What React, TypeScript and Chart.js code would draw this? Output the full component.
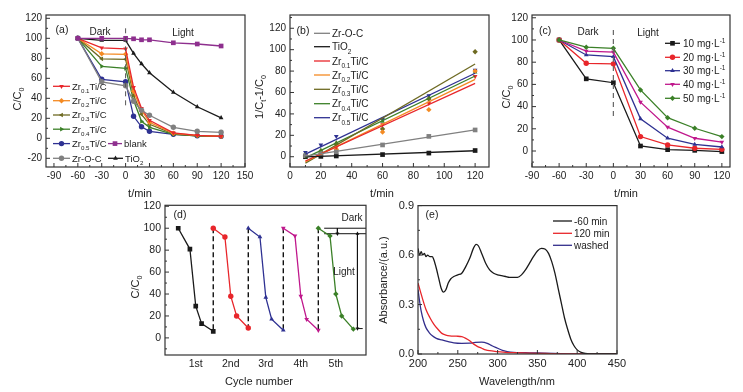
import React, { useEffect, useRef } from 'react';
import { Chart, registerables } from 'chart.js';
Chart.register(...registerables);

const FONT = '"Liberation Sans", Arial, Helvetica, sans-serif';
const INK = '#222';
const COL = {
  red: '#e8262b', orange: '#f48a22', olive: '#6e6a22', green: '#3b8028', blue: '#2e3192',
  gray: '#808080', black: '#1a1a1a', purple: '#8e2f8e', magenta: '#c0188c',
};

// ---------------- (a) ----------------
const aTimes = [-60, -30, 0, 10, 20, 30, 60, 90, 120];
const aZr01 = [100, 90.5, 89.5, 51, 30, 18, 5.5, 3, 2];
const aZr02 = [100, 84.5, 84, 47, 28, 16, 5, 3, 2];
const aZr03 = [100, 79.5, 79, 43, 24, 14, 4.5, 2.5, 2];
const aZr04 = [100, 72, 70, 38, 17, 11, 4, 2.5, 2];
const aZr05 = [100, 59, 56.5, 22, 11.5, 7, 4, 2.5, 2];
const aZrOC = [100, 56.5, 52.5, 37, 28, 23, 11, 7, 6];
const aTiO2 = [100, 98, 98, 85, 74.5, 65.5, 46, 31.5, 20.5];
const aBlank = [100, 100, 100, 99.5, 98.5, 98.5, 95.5, 94.3, 92.3];
const aDashX = [0, 0];
const aDashY = [110, 32];
const aXTicks = [-90, -60, -30, 0, 30, 60, 90, 120, 150];
const aYTicks = [-20, 0, 20, 40, 60, 80, 100, 120];

// ---------------- (b) ----------------
const bTimes = [10, 20, 30, 60, 90, 120];
const bZrOC = [1, 3, 4.5, 11, 19, 25];
const bTiO2 = [0, 0.3, 0.7, 2, 3.4, 5.8];
const bZr01 = [1, 3, 9, 30, 50, 75];
const bZr02 = [0.5, 3, 7, 23, 44, 80];
const bZr03 = [1, 5, 12, 26, 54, 98];
const bZr04 = [2, 6, 13, 33, 55, 79];
const bZr05 = [4, 11, 19, 35, 57, 81];
const bFitT = [10, 120];
const bFitZrOC = [0.5, 25];
const bFitTiO2 = [-0.2, 5.6];
const bFitZr01 = [-4, 68.5];
const bFitZr02 = [-4.5, 72.3];
const bFitZr03 = [-6, 86.6];
const bFitZr04 = [-1, 75.4];
const bFitZr05 = [2.5, 78];
const bXTicks = [0, 20, 40, 60, 80, 100, 120];
const bYTicks = [0, 20, 40, 60, 80, 100, 120];

// ---------------- (c) ----------------
const cTimes = [-60, -30, 0, 30, 60, 90, 120];
const c10 = [100, 65, 61.5, 4.5, 1.2, 0.6, -0.5];
const c20 = [100, 79, 78.5, 13, 5.5, 2.5, 1.5];
const c30 = [100, 86.5, 85, 29, 11.5, 6, 3.6];
const c40 = [100, 90, 89, 44, 21.5, 11.5, 8];
const c50 = [100, 93.5, 92.5, 55, 30, 20.5, 13];
const cDashX = [0, 0];
const cDashY = [109, 29];
const cXTicks = [-90, -60, -30, 0, 30, 60, 90, 120];
const cYTicks = [0, 20, 40, 60, 80, 100, 120];

// ---------------- (d) ----------------
const dCycleTimes = [-60, 0, 30, 60, 120];
const dCycleSpan = 180;
const dCycles = [
  [100, 81, 29, 13, 6],
  [100, 92, 38, 20, 9],
  [100, 92, 37, 17, 7],
  [100, 93, 38, 17, 7],
  [100, 93, 40, 20, 8],
];
const dCycleLabels = ['1st', '2nd', '3rd', '4th', '5th'];
const dDarkLineX = [750, 965];
const dDarkTop = 100;
const dDarkBottom = 95;
const dDarkArrowX = 818;
const dLightArrowX = 921;
const dLightEnd = 8.5;
const dFootX = [921, 948];
const dYTicks = [0, 20, 40, 60, 80, 100, 120];

// ---------------- (e) ----------------
const eWlBlack = [200, 202, 204, 206, 208, 210, 212, 215, 218, 220, 223, 226, 229, 232, 235, 238, 241, 245, 250, 255, 260, 265, 270, 273, 276, 280, 285, 290, 295, 300, 305, 310, 315, 320, 325, 330, 335, 340, 345, 350, 355, 360, 364, 368, 372, 376, 380, 384, 388, 392, 396, 400, 405, 410, 415, 450];
const eAbsBlack = [0.64, 0.6, 0.62, 0.6, 0.61, 0.59, 0.6, 0.59, 0.59, 0.57, 0.52, 0.46, 0.4, 0.375, 0.39, 0.43, 0.455, 0.47, 0.48, 0.49, 0.53, 0.58, 0.645, 0.665, 0.655, 0.61, 0.55, 0.51, 0.49, 0.48, 0.475, 0.47, 0.465, 0.465, 0.465, 0.48, 0.51, 0.55, 0.59, 0.625, 0.64, 0.635, 0.61, 0.56, 0.49, 0.4, 0.31, 0.22, 0.15, 0.09, 0.05, 0.025, 0.01, 0.003, 0, 0];
const eWlRed = [200, 203, 206, 210, 215, 220, 225, 230, 235, 240, 248, 255, 260, 265, 270, 275, 280, 285, 290, 300, 310, 320, 340, 360, 380, 400, 450];
const eAbsRed = [0.43, 0.38, 0.33, 0.27, 0.22, 0.18, 0.15, 0.125, 0.115, 0.11, 0.108, 0.105, 0.095, 0.08, 0.06, 0.045, 0.035, 0.025, 0.02, 0.015, 0.01, 0.008, 0.005, 0.003, 0.001, 0, 0];
const eWlBlue = [200, 202, 204, 207, 210, 214, 218, 223, 230, 238, 245, 255, 265, 272, 280, 287, 293, 300, 306, 312, 320, 335, 350, 370, 390, 410, 450];
const eAbsBlue = [0.39, 0.32, 0.26, 0.2, 0.16, 0.13, 0.11, 0.095, 0.085, 0.075, 0.068, 0.065, 0.066, 0.07, 0.072, 0.065, 0.05, 0.035, 0.022, 0.015, 0.01, 0.008, 0.006, 0.003, 0.001, 0, 0];
const eXTicks = [200, 250, 300, 350, 400, 450];
const eYTicks = [0, 0.3, 0.6, 0.9];

// ---------------- helpers ----------------
type Part = { t: string; s?: 'sub' | 'sup' };
function parseRich(str: string): Part[] {
  const out: Part[] = [];
  let i = 0;
  let buf = '';
  while (i < str.length) {
    const ch = str[i];
    if ((ch === '_' || ch === '^') && str[i + 1] === '{') {
      if (buf) { out.push({ t: buf }); buf = ''; }
      const end = str.indexOf('}', i + 2);
      out.push({ t: str.slice(i + 2, end), s: ch === '_' ? 'sub' : 'sup' });
      i = end + 1;
    } else { buf += ch; i++; }
  }
  if (buf) out.push({ t: buf });
  return out;
}

function drawRich(ctx: CanvasRenderingContext2D, str: string, x: number, y: number, size: number, align = 'left', rot = 0, color = INK) {
  const parts = parseRich(str);
  ctx.save();
  ctx.translate(x, y);
  if (rot) ctx.rotate(rot);
  ctx.fillStyle = color;
  ctx.textBaseline = 'alphabetic';
  ctx.textAlign = 'left';
  const fs = (p: Part) => (p.s ? size * 0.65 : size);
  const widths = parts.map((p) => { ctx.font = `${fs(p)}px ${FONT}`; return ctx.measureText(p.t).width; });
  const total = widths.reduce((a, b) => a + b, 0);
  let cx = align === 'center' ? -total / 2 : align === 'right' ? -total : 0;
  const base = size * 0.36;
  parts.forEach((p, i) => {
    ctx.font = `${fs(p)}px ${FONT}`;
    const dy = p.s === 'sub' ? size * 0.32 : p.s === 'sup' ? -size * 0.4 : 0;
    ctx.fillText(p.t, cx, base + dy);
    cx += widths[i];
  });
  ctx.restore();
}

function drawMarker(ctx: CanvasRenderingContext2D, style: string, rot: number, x: number, y: number, r: number, color: string) {
  ctx.save();
  ctx.translate(x, y);
  ctx.rotate((rot * Math.PI) / 180);
  ctx.fillStyle = color;
  ctx.beginPath();
  if (style === 'rect') {
    const s = r * Math.SQRT1_2;
    ctx.rect(-s, -s, 2 * s, 2 * s);
  } else if (style === 'circle') {
    ctx.arc(0, 0, r, 0, Math.PI * 2);
  } else if (style === 'triangle') {
    for (let k = 0; k < 3; k++) {
      const a = (k * 2 * Math.PI) / 3;
      const px = Math.sin(a) * r;
      const py = -Math.cos(a) * r;
      if (k === 0) ctx.moveTo(px, py); else ctx.lineTo(px, py);
    }
    ctx.closePath();
  } else if (style === 'rectRot') {
    ctx.moveTo(0, -r); ctx.lineTo(r, 0); ctx.lineTo(0, r); ctx.lineTo(-r, 0); ctx.closePath();
  }
  ctx.fill();
  ctx.restore();
}

const PR = 2.7;
const PR_RECT = 3.3;

function pts(xs: number[], ys: number[]) {
  return xs.map((x, i) => ({ x, y: ys[i] }));
}

function series(xs: number[], ys: number[], color: string, style: string | false, rot = 0, extra: any = {}) {
  return {
    data: pts(xs, ys),
    borderColor: color,
    backgroundColor: color,
    pointBackgroundColor: color,
    pointBorderColor: color,
    pointBorderWidth: 0,
    borderWidth: 1.3,
    pointRadius: style ? (style === 'rect' ? PR_RECT : PR) : 0,
    pointStyle: style || 'circle',
    pointRotation: rot,
    tension: 0,
    fill: false,
    ...extra,
  };
}

type Legend = { x1: number; x2: number; y: number; color: string; marker?: [string, number]; text: string; tx: number };
type Txt = { s: string; x: number; y: number; size: number; align?: string; rot?: number };
type Spec = {
  box: { x: number; y: number; w: number; h: number };
  frame: { l: number; t: number; r: number; b: number };
  xMin: number; xMax: number; yMin: number; yMax: number;
  xTicks: number[]; yTicks: number[]; xMinor: number; yMinor: number;
  xFmt: (v: number) => string; yFmt: (v: number) => string;
  xTickMarks?: boolean;
  tickSize: number;
  legendSize?: number;
  datasets: any[];
  texts: Txt[];
  legend: Legend[];
};

function buildConfig(spec: Spec): any {
  const { box, frame } = spec;
  const deco = {
    id: 'deco',
    afterDraw(chart: any) {
      const ctx: CanvasRenderingContext2D = chart.ctx;
      const { left, top, right, bottom } = chart.chartArea;
      const xs = chart.scales.x;
      const ys = chart.scales.y;
      ctx.save();
      ctx.strokeStyle = '#333';
      ctx.lineWidth = 1.2;
      ctx.strokeRect(left, top, right - left, bottom - top);
      ctx.lineWidth = 1;
      ctx.beginPath();
      if (spec.xTickMarks !== false) {
        spec.xTicks.forEach((v, i) => {
          const px = xs.getPixelForValue(v);
          ctx.moveTo(px, bottom); ctx.lineTo(px, bottom - 4);
          if (spec.xMinor && i < spec.xTicks.length - 1) {
            const pm = xs.getPixelForValue(v + spec.xMinor);
            if (pm < right) { ctx.moveTo(pm, bottom); ctx.lineTo(pm, bottom - 2); }
          }
        });
      }
      spec.yTicks.forEach((v, i) => {
        const py = ys.getPixelForValue(v);
        ctx.moveTo(left, py); ctx.lineTo(left + 4, py);
        if (spec.yMinor) {
          const pm = ys.getPixelForValue(v + spec.yMinor);
          if (pm > top) { ctx.moveTo(left, pm); ctx.lineTo(left + 2, pm); }
          const pm2 = ys.getPixelForValue(v - spec.yMinor);
          if (i === 0 && pm2 < bottom) { ctx.moveTo(left, pm2); ctx.lineTo(left + 2, pm2); }
        }
      });
      ctx.stroke();
      // legend
      const ls = spec.legendSize || 10;
      spec.legend.forEach((L) => {
        const y = L.y - box.y;
        ctx.strokeStyle = L.color;
        ctx.lineWidth = 1.3;
        ctx.beginPath();
        ctx.moveTo(L.x1 - box.x, y); ctx.lineTo(L.x2 - box.x, y);
        ctx.stroke();
        if (L.marker) drawMarker(ctx, L.marker[0], L.marker[1], (L.x1 + L.x2) / 2 - box.x, y, L.marker[0] === 'rect' ? PR_RECT : PR, L.color);
        drawRich(ctx, L.text, L.tx - box.x, y, ls, 'left');
      });
      spec.texts.forEach((t) => {
        drawRich(ctx, t.s, t.x - box.x, t.y - box.y, t.size, t.align || 'center', t.rot || 0);
      });
      ctx.restore();
    },
  };
  return {
    type: 'line',
    data: { datasets: spec.datasets },
    options: {
      animation: false,
      responsive: false,
      devicePixelRatio: 1,
      layout: { padding: { left: 0, bottom: 0, top: frame.t - box.y, right: box.x + box.w - frame.r } },
      plugins: { legend: { display: false }, tooltip: { enabled: false } },
      scales: {
        x: {
          type: 'linear', min: spec.xMin, max: spec.xMax,
          grid: { display: false, drawTicks: false }, border: { display: false },
          ticks: {
            font: { family: FONT, size: spec.tickSize }, color: INK, padding: 3,
            maxRotation: 0, autoSkip: false, callback: (v: number) => spec.xFmt(v),
          },
          afterBuildTicks: (s: any) => { s.ticks = spec.xTicks.map((v) => ({ value: v })); },
          afterFit: (s: any) => { s.height = box.y + box.h - frame.b; },
        },
        y: {
          type: 'linear', min: spec.yMin, max: spec.yMax,
          grid: { display: false, drawTicks: false }, border: { display: false },
          ticks: {
            font: { family: FONT, size: spec.tickSize }, color: INK, padding: 4,
            autoSkip: false, callback: (v: number) => spec.yFmt(v),
          },
          afterBuildTicks: (s: any) => { s.ticks = spec.yTicks.map((v) => ({ value: v })); },
          afterFit: (s: any) => { s.width = frame.l - box.x; },
        },
      },
    },
    plugins: [deco],
  };
}

const intFmt = (v: number) => String(Math.round(v));

// ---------------- specs ----------------
const specA: Spec = {
  box: { x: 0, y: 0, w: 262, h: 205 },
  frame: { l: 46, t: 15, r: 245, b: 167 },
  xMin: -100, xMax: 150, yMin: -28.7, yMax: 123.3,
  xTicks: aXTicks, yTicks: aYTicks, xMinor: 15, yMinor: 10,
  xFmt: intFmt, yFmt: intFmt, tickSize: 10, legendSize: 9.5,
  datasets: [
    series(aDashX, aDashY, '#555', false, 0, { borderDash: [5, 4], borderWidth: 1 }),
    series(aTimes, aBlank, COL.purple, 'rect'),
    series(aTimes, aTiO2, COL.black, 'triangle'),
    series(aTimes, aZrOC, COL.gray, 'circle'),
    series(aTimes, aZr01, COL.red, 'triangle', 180),
    series(aTimes, aZr02, COL.orange, 'rectRot'),
    series(aTimes, aZr03, COL.olive, 'triangle', -90),
    series(aTimes, aZr04, COL.green, 'triangle', 90),
    series(aTimes, aZr05, COL.blue, 'circle'),
  ],
  texts: [
    { s: '(a)', x: 62, y: 29, size: 10.5 },
    { s: 'Dark', x: 100, y: 31, size: 10 },
    { s: 'Light', x: 183, y: 32, size: 10 },
    { s: 'C/C_{0}', x: 17, y: 99, size: 11, rot: -Math.PI / 2 },
    { s: 't/min', x: 140, y: 193, size: 11 },
  ],
  legend: [
    { x1: 53, x2: 70, y: 86.3, color: COL.red, marker: ['triangle', 180], text: 'Zr_{0.1}Ti/C', tx: 72 },
    { x1: 53, x2: 70, y: 100.7, color: COL.orange, marker: ['rectRot', 0], text: 'Zr_{0.2}Ti/C', tx: 72 },
    { x1: 53, x2: 70, y: 115, color: COL.olive, marker: ['triangle', -90], text: 'Zr_{0.3}Ti/C', tx: 72 },
    { x1: 53, x2: 70, y: 129.2, color: COL.green, marker: ['triangle', 90], text: 'Zr_{0.4}Ti/C', tx: 72 },
    { x1: 53, x2: 70, y: 143.6, color: COL.blue, marker: ['circle', 0], text: 'Zr_{0.5}Ti/C', tx: 72 },
    { x1: 53, x2: 70, y: 158.3, color: COL.gray, marker: ['circle', 0], text: 'Zr-O-C', tx: 72 },
    { x1: 108, x2: 122, y: 143.6, color: COL.purple, marker: ['rect', 0], text: 'blank', tx: 124 },
    { x1: 108, x2: 123, y: 158.3, color: COL.black, marker: ['triangle', 0], text: 'TiO_{2}', tx: 125 },
  ],
};

const specB: Spec = {
  box: { x: 245, y: 0, w: 255, h: 205 },
  frame: { l: 290, t: 15, r: 489, b: 167 },
  xMin: 0, xMax: 129, yMin: -9.6, yMax: 132.4,
  xTicks: bXTicks, yTicks: bYTicks, xMinor: 10, yMinor: 10,
  xFmt: intFmt, yFmt: intFmt, tickSize: 10,
  datasets: [
    series(bFitT, bFitZrOC, COL.gray, false),
    series(bFitT, bFitTiO2, COL.black, false),
    series(bFitT, bFitZr01, COL.red, false),
    series(bFitT, bFitZr02, COL.orange, false),
    series(bFitT, bFitZr03, COL.olive, false),
    series(bFitT, bFitZr04, COL.green, false),
    series(bFitT, bFitZr05, COL.blue, false),
    series(bTimes, bZrOC, COL.gray, 'rect', 0, { showLine: false }),
    series(bTimes, bTiO2, COL.black, 'rect', 0, { showLine: false }),
    series(bTimes, bZr01, COL.red, 'triangle', 180, { showLine: false }),
    series(bTimes, bZr02, COL.orange, 'rectRot', 0, { showLine: false }),
    series(bTimes, bZr03, COL.olive, 'rectRot', 0, { showLine: false }),
    series(bTimes, bZr04, COL.green, 'triangle', 0, { showLine: false }),
    series(bTimes, bZr05, COL.blue, 'triangle', 180, { showLine: false }),
  ],
  texts: [
    { s: '(b)', x: 303, y: 30, size: 10.5 },
    { s: '1/C_{t}-1/C_{0}', x: 259, y: 97, size: 11, rot: -Math.PI / 2 },
    { s: 't/min', x: 382, y: 193, size: 11 },
  ],
  legend: [
    { x1: 314, x2: 330, y: 33.3, color: COL.gray, text: 'Zr-O-C', tx: 332 },
    { x1: 314, x2: 330, y: 46.7, color: COL.black, text: 'TiO_{2}', tx: 332 },
    { x1: 314, x2: 330, y: 61, color: COL.red, text: 'Zr_{0.1}Ti/C', tx: 332 },
    { x1: 314, x2: 330, y: 75, color: COL.orange, text: 'Zr_{0.2}Ti/C', tx: 332 },
    { x1: 314, x2: 330, y: 89.3, color: COL.olive, text: 'Zr_{0.3}Ti/C', tx: 332 },
    { x1: 314, x2: 330, y: 103.7, color: COL.green, text: 'Zr_{0.4}Ti/C', tx: 332 },
    { x1: 314, x2: 330, y: 117.7, color: COL.blue, text: 'Zr_{0.5}Ti/C', tx: 332 },
  ],
};

const specC: Spec = {
  box: { x: 490, y: 0, w: 253, h: 205 },
  frame: { l: 532, t: 15, r: 730, b: 167 },
  xMin: -90, xMax: 129, yMin: -14.4, yMax: 122.5,
  xTicks: cXTicks, yTicks: cYTicks, xMinor: 15, yMinor: 10,
  xFmt: intFmt, yFmt: intFmt, tickSize: 10,
  datasets: [
    series(cDashX, cDashY, '#666', false, 0, { borderDash: [5, 4], borderWidth: 1.2 }),
    series(cTimes, c50, COL.green, 'rectRot'),
    series(cTimes, c40, COL.magenta, 'triangle', 180),
    series(cTimes, c30, COL.blue, 'triangle'),
    series(cTimes, c20, COL.red, 'circle'),
    series(cTimes, c10, COL.black, 'rect'),
  ],
  texts: [
    { s: '(c)', x: 545, y: 30, size: 10.5 },
    { s: 'Dark', x: 588, y: 31, size: 10 },
    { s: 'Light', x: 648, y: 32, size: 10 },
    { s: 'C/C_{0}', x: 506, y: 97, size: 11, rot: -Math.PI / 2 },
    { s: 't/min', x: 626, y: 193, size: 11 },
  ],
  legend: [
    { x1: 665, x2: 680, y: 43.3, color: COL.black, marker: ['rect', 0], text: '10 mg·L^{-1}', tx: 683 },
    { x1: 665, x2: 680, y: 57.3, color: COL.red, marker: ['circle', 0], text: '20 mg·L^{-1}', tx: 683 },
    { x1: 665, x2: 680, y: 70.7, color: COL.blue, marker: ['triangle', 0], text: '30 mg·L^{-1}', tx: 683 },
    { x1: 665, x2: 680, y: 84.3, color: COL.magenta, marker: ['triangle', 180], text: '40 mg·L^{-1}', tx: 683 },
    { x1: 665, x2: 680, y: 98.3, color: COL.green, marker: ['rectRot', 0], text: '50 mg·L^{-1}', tx: 683 },
  ],
};

const dColors = [COL.black, COL.red, COL.blue, COL.magenta, COL.green];
const dStyles: [string, number][] = [['rect', 0], ['circle', 0], ['triangle', 0], ['triangle', 180], ['rectRot', 0]];
const dDatasets: any[] = [];
dCycles.forEach((vals, k) => {
  const xs = dCycleTimes.map((t) => k * dCycleSpan + (t - dCycleTimes[0]));
  dDatasets.push(series(xs, vals, dColors[k], dStyles[k][0], dStyles[k][1]));
  if (k > 0) {
    const prev = dCycles[k - 1];
    dDatasets.push(series([k * dCycleSpan, k * dCycleSpan], [vals[0], prev[prev.length - 1]], '#111', false, 0, { borderDash: [5, 3], borderWidth: 1.4, order: 5 }));
  }
});
dDatasets.push(series(dDarkLineX, [dDarkTop, dDarkTop], '#111', false, 0, { borderWidth: 1 }));
dDatasets.push(series(dDarkLineX, [dDarkBottom, dDarkBottom], '#111', false, 0, { borderWidth: 1 }));
dDatasets.push(series([dDarkArrowX, dDarkArrowX], [dDarkTop, dDarkBottom], '#111', 'triangle', 180, { borderWidth: 1, pointRadius: [0, 2.2] }));
dDatasets.push(series([dLightArrowX, dLightArrowX], [dDarkBottom, dLightEnd], '#111', 'triangle', 0, { borderWidth: 1, pointRadius: 2.2, pointRotation: [0, 180] }));
dDatasets.push(series(dFootX, [dLightEnd, dLightEnd], '#111', false, 0, { borderWidth: 1 }));

const specD: Spec = {
  box: { x: 120, y: 195, w: 255, h: 197 },
  frame: { l: 165, t: 204, r: 366, b: 355 },
  xMin: -68, xMax: 965, yMin: -15.6, yMax: 120.9,
  xTicks: dCycleLabels.map((_, k) => k * dCycleSpan + dCycleSpan / 2),
  yTicks: dYTicks, xMinor: 0, yMinor: 10,
  xFmt: (v: number) => dCycleLabels[Math.round((v - dCycleSpan / 2) / dCycleSpan)] || '',
  yFmt: intFmt, tickSize: 10.5, xTickMarks: false,
  datasets: dDatasets,
  texts: [
    { s: '(d)', x: 180, y: 214, size: 10.5 },
    { s: 'Dark', x: 352, y: 217, size: 10 },
    { s: 'Light', x: 344, y: 271, size: 10 },
    { s: 'C/C_{0}', x: 135, y: 287, size: 11, rot: -Math.PI / 2 },
    { s: 'Cycle number', x: 259, y: 381, size: 11 },
  ],
  legend: [],
};

const specE: Spec = {
  box: { x: 370, y: 195, w: 260, h: 197 },
  frame: { l: 418, t: 204, r: 617, b: 354 },
  xMin: 200, xMax: 450, yMin: 0, yMax: 0.9,
  xTicks: eXTicks, yTicks: eYTicks, xMinor: 25, yMinor: 0.15,
  xFmt: intFmt, yFmt: (v: number) => v.toFixed(1), tickSize: 11,
  datasets: [
    series(eWlBlack, eAbsBlack, COL.black, false, 0, { cubicInterpolationMode: 'monotone' }),
    series(eWlRed, eAbsRed, COL.red, false, 0, { cubicInterpolationMode: 'monotone' }),
    series(eWlBlue, eAbsBlue, '#332e8c', false, 0, { cubicInterpolationMode: 'monotone' }),
  ],
  texts: [
    { s: '(e)', x: 432, y: 214, size: 10.5 },
    { s: 'Absorbance/(a.u.)', x: 383, y: 280, size: 11, rot: -Math.PI / 2 },
    { s: 'Wavelength/nm', x: 517, y: 381, size: 11 },
  ],
  legend: [
    { x1: 553, x2: 572, y: 221, color: COL.black, text: '-60 min', tx: 574 },
    { x1: 553, x2: 572, y: 233.3, color: COL.red, text: '120 min', tx: 574 },
    { x1: 553, x2: 572, y: 245.3, color: '#332e8c', text: 'washed', tx: 574 },
  ],
};

function Panel({ spec }: { spec: Spec }) {
  const ref = useRef<HTMLCanvasElement>(null);
  useEffect(() => {
    const chart = new Chart(ref.current as HTMLCanvasElement, buildConfig(spec));
    return () => chart.destroy();
  }, [spec]);
  return (
    <canvas
      ref={ref}
      width={spec.box.w}
      height={spec.box.h}
      style={{ position: 'absolute', left: spec.box.x, top: spec.box.y, width: spec.box.w, height: spec.box.h }}
    />
  );
}

export default function App() {
  return (
    <div style={{ position: 'absolute', left: 0, top: 0, width: 743, height: 392, background: '#fff', overflow: 'hidden' }}>
      <Panel spec={specA} />
      <Panel spec={specB} />
      <Panel spec={specC} />
      <Panel spec={specD} />
      <Panel spec={specE} />
    </div>
  );
}
